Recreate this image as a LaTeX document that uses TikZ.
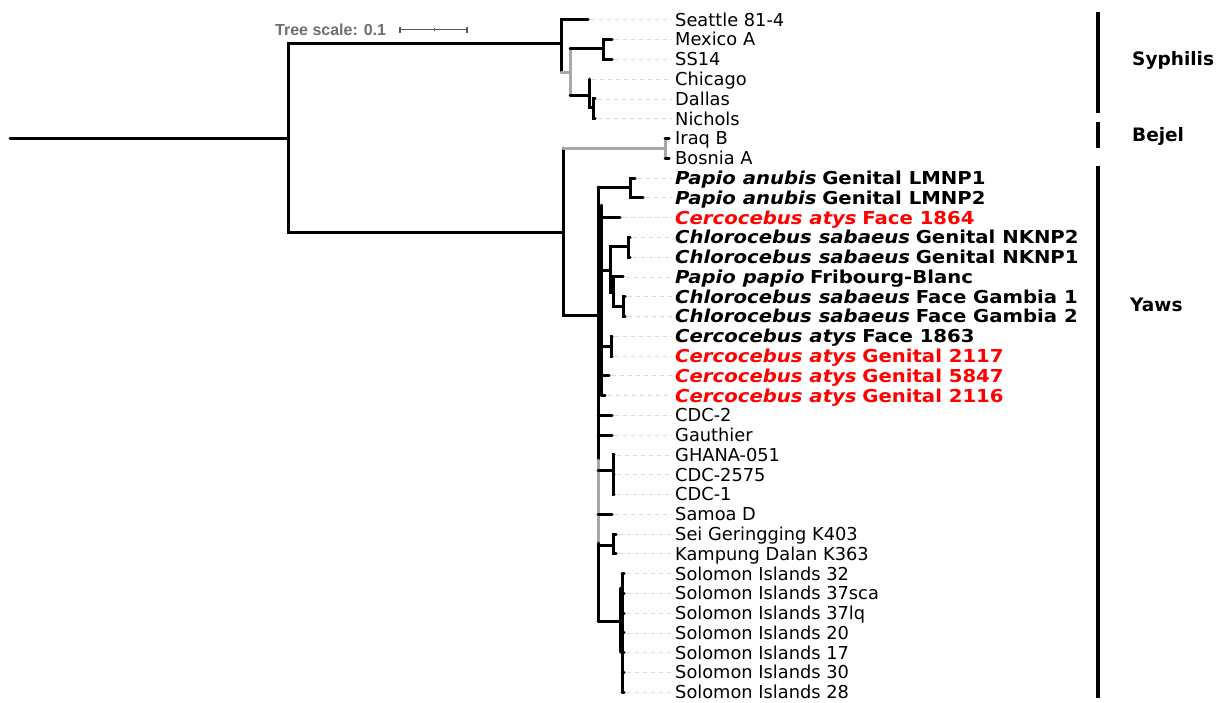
\documentclass[tikz,border=0pt]{standalone}
\usepackage{fontspec}
\setmainfont{DejaVu Sans}[BoldFeatures={FakeStretch=1.105},BoldItalicFeatures={FakeStretch=1.105}]
\newfontfamily\cladefnt{DejaVu Sans}
\newfontfamily\scalefnt{Liberation Sans}
\definecolor{br}{HTML}{A8A8A8}
\definecolor{lead}{HTML}{DADADA}
\definecolor{myred}{HTML}{FF0000}
\definecolor{scalegrey}{HTML}{6E6E6E}
\newcommand{\spn}[1]{\textbf{\textit{#1}}}
\begin{document}
\begin{tikzpicture}[x=1pt,y=-1pt,
  branch/.style={line width=3pt, line cap=round, line join=miter},
  greybranch/.style={branch, draw=br},
  leader/.style={draw=lead, line width=0.8pt, dash pattern=on 4pt off 4pt},
  leaf/.style={anchor=base west, inner sep=0pt, font=\fontsize{17.8}{20}\selectfont},
  clade/.style={anchor=base west, inner sep=0pt, font=\cladefnt\fontsize{18.5}{20}\selectfont\bfseries},
  cladebar/.style={line width=4pt}]
\useasboundingbox (0,0) rectangle (1225,702);

% ---------- leaves ----------
\foreach \i/\tx/\lab in {
 0/588/{Seattle 81-4},
 1/612/{Mexico A},
 2/612/{SS14},
 3/589/{Chicago},
 4/595/{Dallas},
 5/595/{Nichols},
 6/669/{Iraq B},
 7/669/{Bosnia A},
 8/635/{\spn{Papio anubis} \textbf{Genital LMNP1}},
 9/643/{\spn{Papio anubis} \textbf{Genital LMNP2}},
 10/620/{\color{myred}\spn{Cercocebus atys} \textbf{Face 1864}},
 11/630/{\spn{Chlorocebus sabaeus} \textbf{Genital NKNP2}},
 12/630/{\spn{Chlorocebus sabaeus} \textbf{Genital NKNP1}},
 13/623/{\spn{Papio papio} \textbf{Fribourg-Blanc}},
 14/625/{\spn{Chlorocebus sabaeus} \textbf{Face Gambia 1}},
 15/625/{\spn{Chlorocebus sabaeus} \textbf{Face Gambia 2}},
 16/612/{\spn{Cercocebus atys} \textbf{Face 1863}},
 17/612/{\color{myred}\spn{Cercocebus atys} \textbf{Genital 2117}},
 18/609/{\color{myred}\spn{Cercocebus atys} \textbf{Genital 5847}},
 19/605/{\color{myred}\spn{Cercocebus atys} \textbf{Genital 2116}},
 20/612/{CDC-2},
 21/612/{Gauthier},
 22/614/{GHANA-051},
 23/614/{CDC-2575},
 24/614/{CDC-1},
 25/612/{Samoa D},
 26/616/{Sei Geringging K403},
 27/616/{Kampung Dalan K363},
 28/624/{Solomon Islands 32},
 29/624/{Solomon Islands 37sca},
 30/624/{Solomon Islands 37lq},
 31/624/{Solomon Islands 20},
 32/624/{Solomon Islands 17},
 33/624/{Solomon Islands 30},
 34/624/{Solomon Islands 28}} {
  \pgfmathsetmacro\yy{19.8+19.78*\i}
  \coordinate (l\i) at (\tx,\yy);
  \node[leaf] (t\i) at (675,\yy+6.4) {\lab};
  \draw[leader] ([xshift=3pt]l\i) -- ([xshift=-3pt]t\i.west|-l\i);
}

% ---------- internal nodes ----------
\coordinate (r0) at (10,138);
\coordinate (R)  at (288,138);
\coordinate (Sy) at (561,43);
\coordinate (G1) at (570,72);
\coordinate (MS) at (603,48);
\coordinate (CDN) at (589,95);
\coordinate (DN) at (593,107);
\coordinate (BY) at (563,232);
\coordinate (Bj) at (665,148);
\coordinate (Yw) at (598,315);
\coordinate (Ytop) at (598,187);
\coordinate (Yg1) at (598,460);
\coordinate (Yg2) at (598,543);
\coordinate (Ybot) at (598,621);
\coordinate (PA) at (630,187);
\coordinate (Y2top) at (601,205);
\coordinate (Y2bot) at (601,395);
\coordinate (B)  at (610,270);
\coordinate (NK) at (628,246);
\coordinate (Cp) at (613,292);
\coordinate (GB) at (623,306);
\coordinate (CA) at (611,346);
\coordinate (GH) at (613,470);
\coordinate (SK) at (613,545);
\coordinate (SI) at (622,621);

% root and deep splits
\draw[branch] (r0) -- (R);
\draw[branch] (R) |- (Sy);
\draw[branch] (R) |- (BY);

% Syphilis
\draw[branch] (Sy) |- (l0);
\draw[branch] (Sy) -- (Sy|-G1);
\draw[greybranch] (Sy|-G1) -- (G1);
\draw[greybranch] (G1|-MS) -- (G1|-CDN);
\draw[branch] (G1|-MS) -- (MS);
\draw[branch] (MS) |- (l1);
\draw[branch] (MS) |- (l2);
\draw[branch] (G1|-CDN) -- (CDN);
\draw[branch] (CDN) -- (CDN|-l3);
\draw[branch] (CDN) |- (DN);
\draw[branch] (DN) |- (l4);
\draw[branch] (DN) |- (l5);

% Bejel
\draw[branch] (BY) -- (BY|-Bj);
\draw[greybranch] (BY|-Bj) -- (Bj);
\draw[greybranch] (Bj|-l6) -- (Bj|-l7);
\draw[branch] (Bj|-l6) -- (l6);
\draw[branch] (Bj|-l7) -- (l7);

% Yaws
\draw[branch] (BY) |- (Yw);
\draw[branch] (Ytop) -- (Yg1);
\draw[greybranch] (Yg1) -- (Yg2);
\draw[branch] (Yg2) -- (Ybot);
\draw[branch] (Y2top) -- (Y2bot);

\draw[branch] (Ytop) -- (PA);
\draw[branch] (PA) |- (l8);
\draw[branch] (PA) |- (l9);
\draw[branch] (Y2top|-l10) -- (l10);
\draw[branch] (Y2top|-B) -- (B);
\draw[branch] (B) |- (NK);
\draw[branch] (NK) |- (l11);
\draw[branch] (NK) |- (l12);
\draw[branch] (B) |- (Cp);
\draw[branch] (Cp) |- (l13);
\draw[branch] (Cp) |- (GB);
\draw[branch] (GB) |- (l14);
\draw[branch] (GB) |- (l15);
\draw[branch] (Y2top|-CA) -- (CA);
\draw[branch] (CA) |- (l16);
\draw[branch] (CA) |- (l17);
\draw[branch] (Y2top|-l18) -- (l18);
\draw[branch] (Y2top|-l19) -- (l19);
\draw[branch] (Ytop|-l20) -- (l20);
\draw[branch] (Ytop|-l21) -- (l21);
\draw[branch] (Ytop|-GH) -- (GH);
\draw[branch] (GH) |- (l22);
\draw[branch] (GH) |- (l23);
\draw[branch] (GH) |- (l24);
\draw[branch] (Ytop|-l25) -- (l25);
\draw[branch] (Ytop|-SK) -- (SK);
\draw[branch] (SK) |- (l26);
\draw[branch] (SK) |- (l27);
\draw[branch] (Ybot) -- (SI);
\draw[branch] (SI|-l28) -- (SI|-l34);
\draw[branch] (620,588) -- (620,652);
\foreach \k in {28,...,34} {\draw[branch] (SI|-l\k) -- (l\k);}

% ---------- tree scale ----------
\node[anchor=base west, inner sep=0pt, text=scalegrey,
      font=\scalefnt\fontsize{16}{18}\selectfont\bfseries] (ts) at (275,35) {Tree scale: 0.1};
\coordinate (sb1) at (400,29.5);
\coordinate (sb2) at (467,29.5);
\coordinate (sbm) at (434,29.5);
\draw[scalegrey!80!black, line width=1.2pt] (sb1) -- (sb2);
\draw[scalegrey!80!black, line width=1.2pt] ([yshift=3pt]sb1) -- ([yshift=-3pt]sb1);
\draw[scalegrey!80!black, line width=1.2pt] ([yshift=3pt]sb2) -- ([yshift=-3pt]sb2);
\draw[scalegrey!80!black, line width=1pt] ([yshift=1.5pt]sbm) -- ([yshift=-1.5pt]sbm);

% ---------- clade bars ----------
\coordinate (s1) at (1098,12);  \coordinate (s2) at (1098,113);
\coordinate (b1) at (1098,122); \coordinate (b2) at (1098,148);
\coordinate (y1) at (1098,166); \coordinate (y2) at (1098,698);
\draw[cladebar] (s1) -- (s2);
\draw[cladebar] (b1) -- (b2);
\draw[cladebar] (y1) -- (y2);
\node[clade] (syph) at (1132,65) {Syphilis};
\node[clade] (bejel) at (1132,141.7) {Bejel};
\node[clade] (yaws) at (1130,311.7) {Yaws};
\end{tikzpicture}
\end{document}
